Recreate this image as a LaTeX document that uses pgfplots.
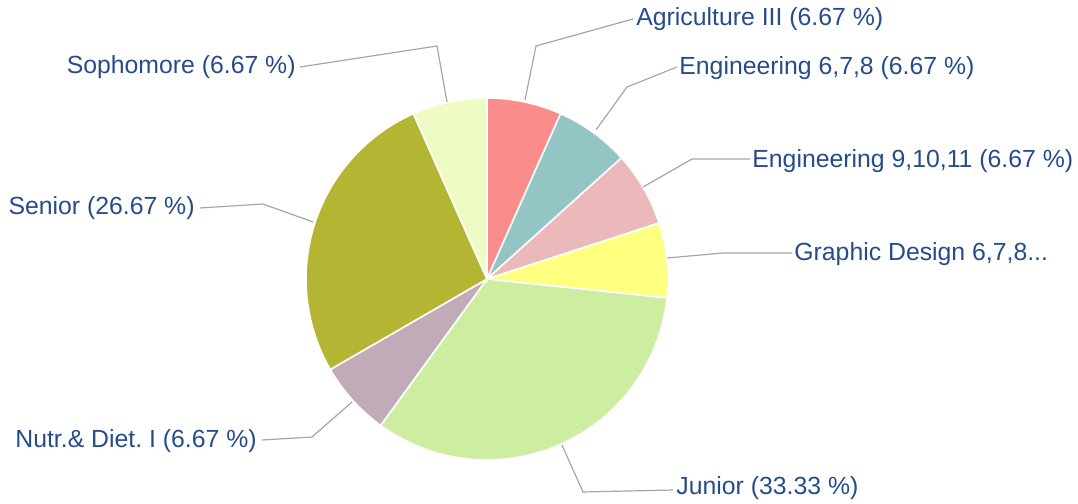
\documentclass[border=0pt]{standalone}
\usepackage{pgfplots}
\pgfplotsset{compat=1.18}
\usepackage{fontspec}
\setmainfont{Liberation Sans}
\frenchspacing
\definecolor{cAgr}{HTML}{FA8D8B}
\definecolor{cE1}{HTML}{93C5C5}
\definecolor{cE2}{HTML}{EBB9BA}
\definecolor{cGD}{HTML}{FFFF80}
\definecolor{cJun}{HTML}{CDEEA1}
\definecolor{cNut}{HTML}{C2ABB8}
\definecolor{cSen}{HTML}{B5B534}
\definecolor{cSop}{HTML}{EEFCC4}
\definecolor{txt}{HTML}{264C8A}
\definecolor{lead}{HTML}{A6A6A6}
\tikzset{lbl/.style={font=\fontsize{12.4}{14}\selectfont, text=txt, inner sep=1pt}}
\begin{document}
\begin{tikzpicture}
\begin{axis}[
  hide axis, scale only axis, width=539pt, height=252pt,
  xmin=0, xmax=1078, ymin=0, ymax=504, clip=false,
]
\path (axis cs:0,0) rectangle (axis cs:1078,504);
% slices: percentages 6.67,6.67,6.67,6.67,33.33,6.67,26.67,6.67 (angle = 3.6*percent, clockwise from top)
\pgfplotsset{slice/.style={draw=white, line width=0.8pt, samples=60, variable=\t}}
\addplot[slice, fill=cAgr, domain=0:24]   ({487+181*sin(\t)},{225+181*cos(\t)}) -- (axis cs:487,225) -- cycle;
\addplot[slice, fill=cE1, domain=24:48]   ({487+181*sin(\t)},{225+181*cos(\t)}) -- (axis cs:487,225) -- cycle;
\addplot[slice, fill=cE2, domain=48:72]   ({487+181*sin(\t)},{225+181*cos(\t)}) -- (axis cs:487,225) -- cycle;
\addplot[slice, fill=cGD, domain=72:96]   ({487+181*sin(\t)},{225+181*cos(\t)}) -- (axis cs:487,225) -- cycle;
\addplot[slice, fill=cJun, domain=96:216] ({487+181*sin(\t)},{225+181*cos(\t)}) -- (axis cs:487,225) -- cycle;
\addplot[slice, fill=cNut, domain=216:240]({487+181*sin(\t)},{225+181*cos(\t)}) -- (axis cs:487,225) -- cycle;
\addplot[slice, fill=cSen, domain=240:336]({487+181*sin(\t)},{225+181*cos(\t)}) -- (axis cs:487,225) -- cycle;
\addplot[slice, fill=cSop, domain=336:360]({487+181*sin(\t)},{225+181*cos(\t)}) -- (axis cs:487,225) -- cycle;
% leader lines (pixel coords, y flipped)
\draw[lead, line width=0.6pt] (axis cs:525,404) -- (axis cs:536,458) -- (axis cs:633,485);
\draw[lead, line width=0.6pt] (axis cs:596,374) -- (axis cs:627,417) -- (axis cs:677,437);
\draw[lead, line width=0.6pt] (axis cs:643,317) -- (axis cs:692,345) -- (axis cs:750,345);
\draw[lead, line width=0.6pt] (axis cs:667,246) -- (axis cs:723,251) -- (axis cs:792,251);
\draw[lead, line width=0.6pt] (axis cs:562,59) -- (axis cs:583,12) -- (axis cs:673,14);
\draw[lead, line width=0.6pt] (axis cs:352,102) -- (axis cs:312,67) -- (axis cs:262,64);
\draw[lead, line width=0.6pt] (axis cs:313,282) -- (axis cs:263,300) -- (axis cs:200,296);
\draw[lead, line width=0.6pt] (axis cs:447,402) -- (axis cs:437,458) -- (axis cs:300,437);
% labels
\node[lbl, anchor=west] at (axis cs:634,485) {Agriculture III (6.67 \%)};
\node[lbl, anchor=west] at (axis cs:677,436) {Engineering 6,7,8 (6.67 \%)};
\node[lbl, anchor=west] at (axis cs:750,343) {Engineering 9,10,11 (6.67 \%)};
\node[lbl, anchor=west] at (axis cs:792,250) {Graphic Design 6,7,8...};
\node[lbl, anchor=west] at (axis cs:674,16) {Junior (33.33 \%)};
\node[lbl, anchor=east] at (axis cs:259,63) {Nutr.\& Diet. I (6.67 \%)};
\node[lbl, anchor=east] at (axis cs:197,296) {Senior (26.67 \%)};
\node[lbl, anchor=east] at (axis cs:298,437) {Sophomore (6.67 \%)};
\end{axis}
\end{tikzpicture}
\end{document}
